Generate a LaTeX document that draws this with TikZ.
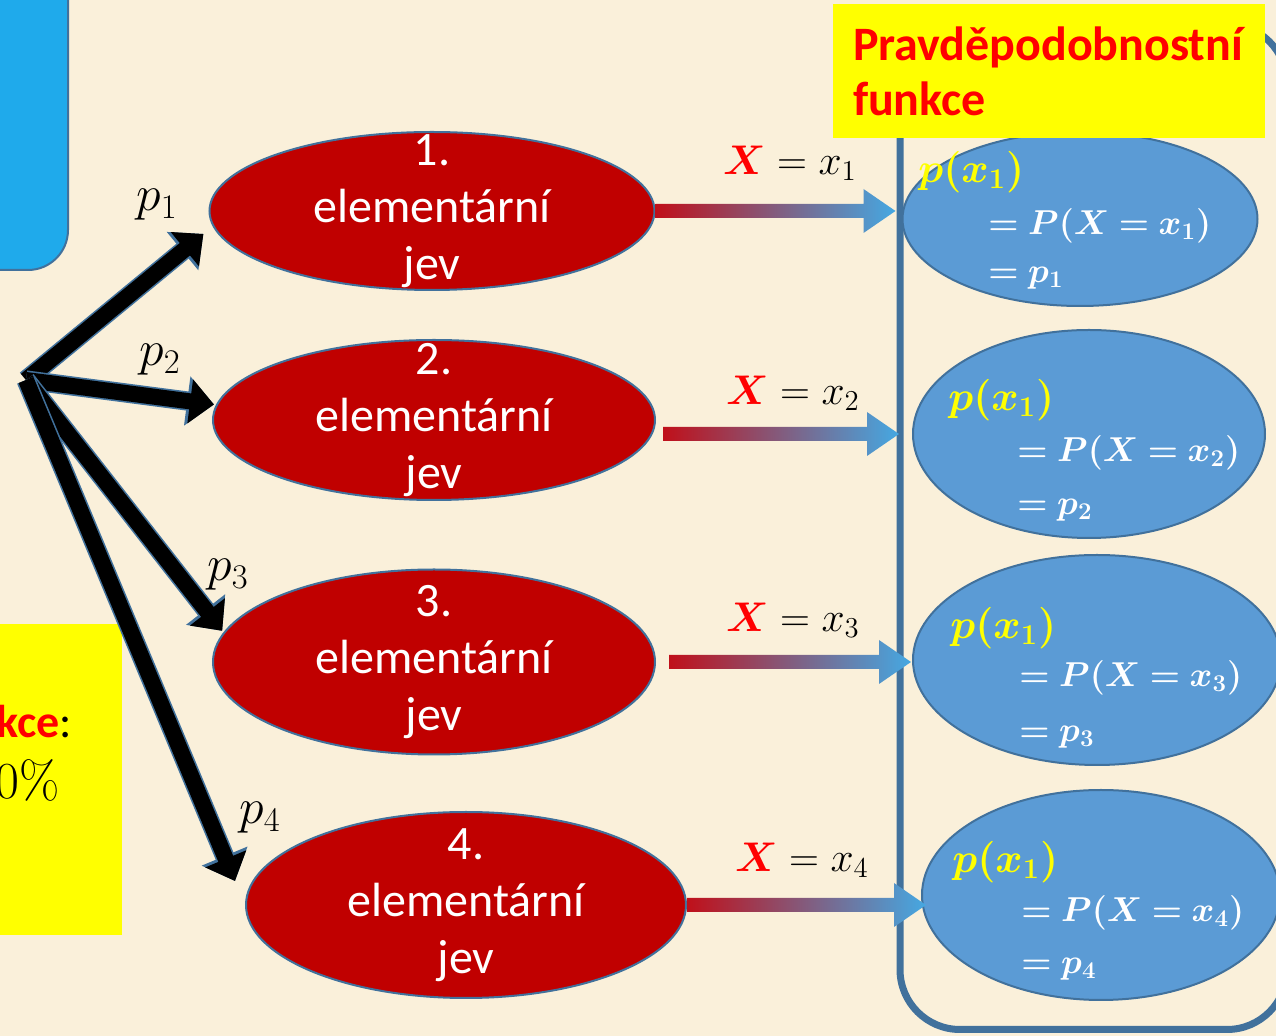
\documentclass[tikz,border=0pt]{standalone}
\usepackage{fontspec}
\usepackage{bm}
\newfontfamily\calibri{Carlito}
\usetikzlibrary{arrows.meta,shapes.geometric,calc}

\definecolor{paper}{HTML}{FAF0DA}
\definecolor{jevred}{HTML}{C00000}
\definecolor{edgeblue}{HTML}{41719C}
\definecolor{cellblue}{HTML}{5B9BD5}
\definecolor{boxblue}{HTML}{1FAAEB}
\definecolor{arrred}{HTML}{C0101A}
\definecolor{arrblue}{HTML}{45A8E2}
\definecolor{titleyellow}{HTML}{FFFF00}
\definecolor{titlered}{HTML}{FF0000}

\tikzset{
  jev/.style={ellipse, draw=edgeblue, line width=1pt, fill=jevred, inner sep=0pt},
  jevtext/.style={text=white, align=center, inner sep=0pt,
    font=\calibri\fontsize{24}{28.5}\selectfont},
  pfcell/.style={ellipse, draw=edgeblue, line width=1pt, fill=cellblue, inner sep=0pt},
  pfyel/.style={anchor=west, inner sep=0pt, text=titleyellow, font=\fontsize{20}{24}\selectfont},
  pfwhite/.style={anchor=west, inner sep=0pt, text=white, font=\fontsize{18}{22}\selectfont},
  plabel/.style={inner sep=0pt, font=\fontsize{23}{27}\selectfont},
  xlabel/.style={inner sep=0pt, font=\fontsize{22}{26}\selectfont},
  probedge/.style={edgeblue, line width=9.6pt, -{Triangle[length=13.5pt,width=24pt]}},
  probarrow/.style={black, line width=8pt, -{Triangle[length=12pt,width=21.5pt]}},
  titlebox/.style={fill=titleyellow, inner xsep=10pt, align=left, text=titlered,
    font=\calibri\bfseries\fontsize{24}{27.5}\selectfont}
}

% gradient arrow: from, to, y taken from, start gap, end gap
\newcommand{\pfarrow}[5]{%
  \shade[left color=arrred, right color=arrblue]
    let \p1=(#1), \p2=(#2), \p3=(#3) in
    (\x1+#4,\y3+3.5pt) -- (\x2+#5-16pt,\y3+3.5pt) -- (\x2+#5-16pt,\y3+11pt)
    -- (\x2+#5,\y3) -- (\x2+#5-16pt,\y3-11pt) -- (\x2+#5-16pt,\y3-3.5pt)
    -- (\x1+#4,\y3-3.5pt) -- cycle;}

\begin{document}
\begin{tikzpicture}[x=0.5pt, y=-0.5pt]
    % Paper
    \fill[paper] (0,0) rectangle (1276,1036);
    \clip (0,0) rectangle (1276,1036);

    % Boxes cut off at the left
    \draw[fill=boxblue, draw=edgeblue, line width=1pt, rounded corners=20pt] (-60,-60) rectangle (68,270);
    \fill[titleyellow] (-20,624) rectangle (122,935);
    \node[anchor=west, inner sep=0pt, text=titlered, font=\calibri\bfseries\fontsize{23}{26}\selectfont] (cutname) at (-4,722) {kce\textcolor{black}{\mdseries:}};
    \node[anchor=west, inner sep=0pt, font=\fontsize{26}{30}\selectfont] (cutpct) at (-5,780) {0\%};

    % Frame round the function
    \draw[edgeblue, line width=3.5pt, rounded corners=30pt] (900,24) rectangle (1287,1029.5);

    % Elementary events
    \node[jev, minimum width=222.5pt, minimum height=79pt] (r1) at (432,211) {};
    \node[jev, minimum width=221pt, minimum height=80pt] (r2) at (434,420) {};
    \node[jev, minimum width=221pt, minimum height=92.5pt] (r3) at (434,662) {};
    \node[jev, minimum width=220pt, minimum height=93pt] (r4) at (466,905) {};
    \foreach \n in {1,...,4}
        \node[jevtext] (t\n) at (r\n) {\n.\\elementární\\jev};

    % Branches
    \coordinate (src) at (26,380);
    \foreach \e/\a/\s in {r1/184/6pt, r2/176/1pt, r3/172/1pt, r4/180/13pt} {
        \draw[probedge, shorten >=\s] (src) -- (\e.\a);
        \draw[probarrow, shorten >=\s] (src) -- (\e.\a);
    }
    \node[plabel] (p1) at (157,205) {$p_1$};
    \node[plabel] (p2) at (160,360) {$p_2$};
    \node[plabel] (p3) at (228,575) {$p_3$};
    \node[plabel] (p4) at (260,818) {$p_4$};

    % Values
    \node[pfcell, minimum width=177.5pt, minimum height=87pt] (b1) at (1080,219) {};
    \node[pfcell, minimum width=176pt, minimum height=104pt] (b2) at (1089,434) {};
    \node[pfcell, minimum width=184pt, minimum height=105pt] (b3) at (1097,660) {};
    \node[pfcell, minimum width=179pt, minimum height=105pt] (b4) at (1101,895) {};

    \node[pfyel] (b1a) at (918,172) {$\bm{p(x_1)}$};
    \node[pfwhite] (b1b) at (988,226) {$\bm{=P(X=x_1)}$};
    \node[pfwhite] (b1c) at (988,278) {$\bm{=p_1}$};
    \node[pfyel] (b2a) at (948,400) {$\bm{p(x_1)}$};
    \node[pfwhite] (b2b) at (1017,453) {$\bm{=P(X=x_2)}$};
    \node[pfwhite] (b2c) at (1017,510) {$\bm{=p_2}$};
    \node[pfyel] (b3a) at (950,628) {$\bm{p(x_1)}$};
    \node[pfwhite] (b3b) at (1019,678) {$\bm{=P(X=x_3)}$};
    \node[pfwhite] (b3c) at (1019,737) {$\bm{=p_3}$};
    \node[pfyel] (b4a) at (952,862) {$\bm{p(x_1)}$};
    \node[pfwhite] (b4b) at (1021,913) {$\bm{=P(X=x_4)}$};
    \node[pfwhite] (b4c) at (1021,969) {$\bm{=p_4}$};

    % Random variable arrows
    \pfarrow{r1.east}{b1.west}{r1.east}{0pt}{-3pt}
    \pfarrow{r2.east}{b2.west}{b2.west}{3.5pt}{-6.5pt}
    \pfarrow{r3.east}{b3.west}{r3.east}{6.5pt}{-0.5pt}
    \pfarrow{r4.east}{b4.west}{r4.east}{0pt}{2.5pt}
    \node[xlabel] (x1) at (790,163) {$\textcolor{titlered}{\bm{X}}=x_1$};
    \node[xlabel] (x2) at (793,393) {$\textcolor{titlered}{\bm{X}}=x_2$};
    \node[xlabel] (x3) at (793,620) {$\textcolor{titlered}{\bm{X}}=x_3$};
    \node[xlabel] (x4) at (802,860) {$\textcolor{titlered}{\bm{X}}=x_4$};

    % Title
    \node[titlebox, minimum width=216pt, minimum height=67pt, text width=196pt] (title) at (1049,71) {Pravděpodobnostní\\funkce};
\end{tikzpicture}
\end{document}
